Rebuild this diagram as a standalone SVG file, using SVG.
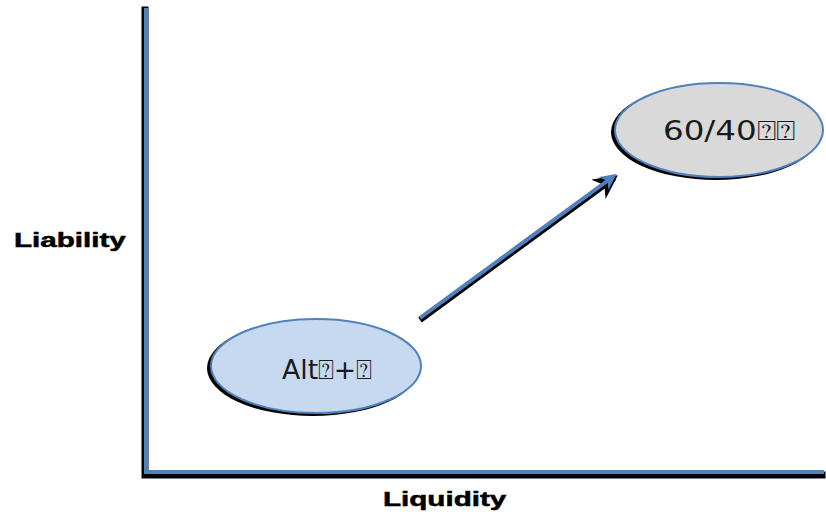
<svg xmlns="http://www.w3.org/2000/svg" width="826" height="516" viewBox="0 0 826 516">
<defs>
<style>
.sh{stroke:#000;fill:none;stroke-linecap:square}
.ax{stroke:#4f81bd;fill:none;stroke-width:4;stroke-linecap:square}
.lbl{font-family:"Liberation Sans",Arial,sans-serif;font-weight:bold;font-size:20px;fill:#000;stroke:#000;stroke-width:0.5}
.nt{font-family:"DejaVu Sans","Noto Sans",sans-serif;font-size:27px;fill:#1a1a1a}
</style>
<marker id="ah" viewBox="0 0 10 10" refX="8" refY="5" markerWidth="4" markerHeight="4" orient="auto" markerUnits="strokeWidth">
<path d="M0,0 L10,5 L0,10 L3,5 Z" fill="#4f81bd"/>
</marker>
<marker id="ahs" viewBox="0 0 10 10" refX="8" refY="5" markerWidth="4" markerHeight="4" orient="auto" markerUnits="strokeWidth">
<path d="M0,0 L10,5 L0,10 L3,5 Z" fill="#000"/>
</marker>
</defs>
<rect width="826" height="516" fill="#fff"/>
<g id="axes">
<polyline class="sh" stroke-width="7" points="145,10 145,475 822,475"/>
<polyline class="ax" points="146,10 146,472 822,472"/>
</g>
<g id="connectors">
<line x1="420" y1="320" x2="614" y2="178" stroke="#000" stroke-width="6" marker-end="url(#ahs)"/>
<line x1="420" y1="318" x2="614" y2="176" stroke="#4f81bd" stroke-width="4" marker-end="url(#ah)"/>
</g>
<g id="node-alt">
<ellipse cx="313" cy="368" rx="106" ry="48" fill="#000"/>
<ellipse cx="316" cy="366" rx="105" ry="47" fill="#c6d9f1" stroke="#4f81bd" stroke-width="2"/>
<text class="nt" x="282" y="379" textLength="90" lengthAdjust="spacingAndGlyphs">Alt⍰+⍰</text>
</g>
<g id="node-6040">
<ellipse cx="716" cy="132" rx="105" ry="48" fill="#000"/>
<ellipse cx="719" cy="130" rx="104" ry="47" fill="#d9d9d9" stroke="#4f81bd" stroke-width="2"/>
<text class="nt" x="663" y="140" textLength="132" lengthAdjust="spacingAndGlyphs">60/40⍰⍰</text>
</g>
<text class="lbl" transform="translate(14,247) scale(1.48,1)">Liability</text>
<text class="lbl" transform="translate(383,506) scale(1.48,1)">Liquidity</text>
</svg>
